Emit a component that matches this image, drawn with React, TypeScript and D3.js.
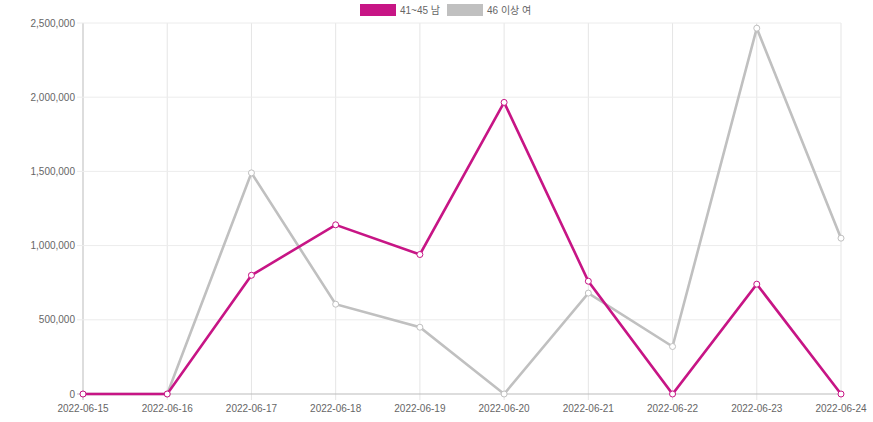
import React from 'react';
import * as d3 from 'd3';

const dates = [
  '2022-06-15', '2022-06-16', '2022-06-17', '2022-06-18', '2022-06-19',
  '2022-06-20', '2022-06-21', '2022-06-22', '2022-06-23', '2022-06-24',
];
const male4145 = [0, 0, 800000, 1140000, 940000, 1965000, 760000, 0, 740000, 0];
const female46 = [0, 0, 1490000, 605000, 450000, 0, 680000, 320000, 2465000, 1050000];
const yTicks = [0, 500000, 1000000, 1500000, 2000000, 2500000];

const series = [
  { name: '41~45 남', values: male4145, color: '#c71585' },
  { name: '46 이상 여', values: female46, color: '#c0c0c0' },
];

const FONT = '"Liberation Sans", Arial, "Noto Sans CJK KR", sans-serif';

const App = () => {
  const width = 873;
  const height = 422;
  const left = 83;
  const right = 841;
  const top = 23;
  const bottom = 394;

  const x = d3.scalePoint<string>().domain(dates).range([left, right]);
  const y = d3.scaleLinear().domain([0, 2500000]).range([bottom, top]);
  const fmt = d3.format(',');

  const line = d3
    .line<number>()
    .x((_, i) => x(dates[i]) as number)
    .y((d) => y(d));

  // legend layout
  const legendX = [360, 447];

  return (
    <svg
      width={width}
      height={height}
      style={{ position: 'absolute', left: 0, top: 0, fontFamily: FONT }}
    >
      <rect width={width} height={height} fill="#fff" />

      {/* grid */}
      {dates.map((d, i) => (
        <line
          key={d}
          x1={x(d)}
          x2={x(d)}
          y1={top}
          y2={bottom + 6}
          stroke={i === 0 ? '#bbb' : '#e5e5e5'}
          strokeWidth={1}
        />
      ))}
      {yTicks.map((t) => (
        <line
          key={t}
          x1={left - 6}
          x2={right}
          y1={y(t)}
          y2={y(t)}
          stroke={t === 0 ? '#bbb' : '#ececec'}
          strokeWidth={1}
        />
      ))}

      {/* y tick labels */}
      {yTicks.map((t) => (
        <text
          key={t}
          x={left - 8}
          y={y(t)}
          dy="0.35em"
          textAnchor="end"
          fontSize={10}
          fill="#666"
        >
          {fmt(t)}
        </text>
      ))}

      {/* x tick labels */}
      {dates.map((d) => (
        <text
          key={d}
          x={x(d)}
          y={bottom + 18}
          textAnchor="middle"
          fontSize={10}
          fill="#666"
        >
          {d}
        </text>
      ))}

      {/* lines (gray drawn first, magenta on top) */}
      {[...series].reverse().map((s) => (
        <g key={s.name}>
          <path d={line(s.values) || ''} fill="none" stroke={s.color} strokeWidth={2.6} />
          {s.values.map((v, i) => (
            <circle
              key={i}
              cx={x(dates[i])}
              cy={y(v)}
              r={3}
              fill="#fff"
              stroke={s.color}
              strokeWidth={1}
            />
          ))}
        </g>
      ))}

      {/* legend */}
      {series.map((s, i) => (
        <g key={s.name}>
          <rect x={legendX[i]} y={4} width={36} height={12} fill={s.color} />
          <text x={legendX[i] + 40} y={10} dy="0.35em" fontSize={10} fill="#666">
            {s.name}
          </text>
        </g>
      ))}
    </svg>
  );
};

export default App;
